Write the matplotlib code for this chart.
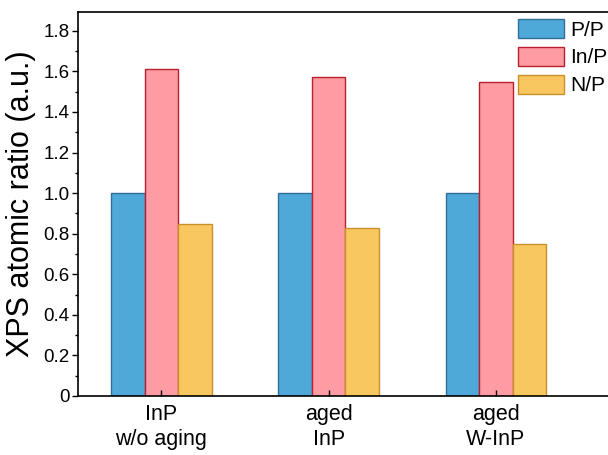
import numpy as np
import matplotlib
matplotlib.use("Agg")
import matplotlib.pyplot as plt
from matplotlib.ticker import MultipleLocator

categories = ["InP\nw/o aging", "aged\nInP", "aged\nW-InP"]
series_names = ["P/P", "In/P", "N/P"]
pp = [1.0, 1.0, 1.0]
inp = [1.61, 1.57, 1.55]
np_ratio = [0.85, 0.83, 0.75]

faces = ["#4FA9D8", "#FF9BA3", "#F9C75F"]
edges = ["#2F6F98", "#B8202E", "#C8902A"]

plt.rcParams["font.family"] = ["Liberation Sans", "DejaVu Sans"]

fig = plt.figure(figsize=(6.08, 4.55), dpi=100)
ax = fig.add_axes([0.128, 0.1297, 0.88, 0.844])

x = np.arange(len(categories))
w = 0.2
for i, (vals, name) in enumerate(zip([pp, inp, np_ratio], series_names)):
    ax.bar(x + (i - 1) * w, vals, w, color=faces[i], edgecolor=edges[i],
           linewidth=1.0, label=name)

ax.set_xlim(-0.5, 2.7)
ax.set_ylim(0, 1.893)
ax.set_xticks(x)
ax.set_xticklabels(categories, fontsize=15.5, linespacing=1.25)
ax.yaxis.set_minor_locator(MultipleLocator(0.1))
ax.set_yticks(np.arange(0, 1.81, 0.2))
ax.set_yticklabels(["0"] + [f"{v:.1f}" for v in np.arange(0.2, 1.81, 0.2)], fontsize=13.5)
ax.tick_params(axis="y", which="major", direction="out", length=4, width=1, pad=2)
ax.tick_params(axis="y", which="minor", direction="out", length=2.5, width=1)
ax.tick_params(axis="x", direction="in", length=4, width=1, pad=6)
ax.spines["right"].set_visible(False)
for s in ["left", "bottom", "top"]:
    ax.spines[s].set_linewidth(1.2)

ax.set_ylabel("XPS atomic ratio (a.u.)", fontsize=22, labelpad=5)

ax.legend(loc="upper right", bbox_to_anchor=(1.012, 1.012), frameon=False,
          fontsize=15, handlelength=2.2, handleheight=1.05, handletextpad=0.3,
          labelspacing=0.34, borderaxespad=0.15)

fig.savefig("out.png", dpi=100)
